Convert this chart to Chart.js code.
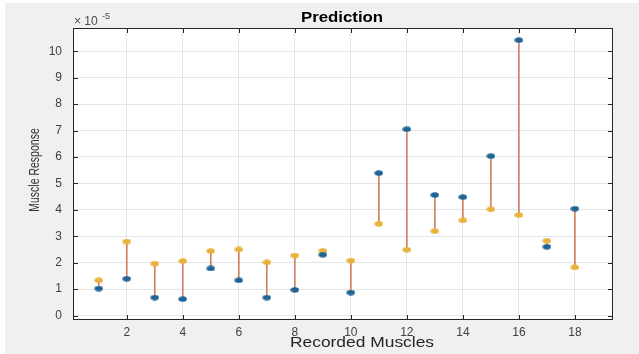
<!DOCTYPE html>
<html>
<head>
<meta charset="utf-8">
<script src="https://cdn.jsdelivr.net/npm/chart.js@4.4.1/dist/chart.umd.min.js"></script>
<style>
  body { margin: 0; background: #f0f0f0; }
  #wrap { width: 639px; height: 354px; }
</style>
</head>
<body>
<div id="wrap"><canvas id="predictionChart" width="639" height="354"></canvas></div>
<script>
// recorded muscle index
const muscles = [1, 2, 3, 4, 5, 6, 7, 8, 9, 10, 11, 12, 13, 14, 15, 16, 17, 18];
// measured response (x 1e-5), blue markers
const measured = [1.02, 1.39, 0.68, 0.62, 1.78, 1.33, 0.68, 0.97, 2.30, 0.87, 5.39, 7.05, 4.56, 4.48, 6.03, 10.42, 2.60, 4.04];
// predicted response (x 1e-5), orange markers
const predicted = [1.33, 2.80, 1.96, 2.06, 2.44, 2.50, 2.01, 2.27, 2.45, 2.08, 3.47, 2.49, 3.19, 3.60, 4.02, 3.80, 2.83, 1.82];
const xTicks = [2, 4, 6, 8, 10, 12, 14, 16, 18];
const yTicks = [0, 1, 2, 3, 4, 5, 6, 7, 8, 9, 10];

const FONT = "'Liberation Sans', Arial, sans-serif";

// small filled ellipse used as marker
function dot(color) {
  const c = document.createElement("canvas");
  c.width = 9; c.height = 6;
  const g = c.getContext("2d");
  g.fillStyle = color;
  g.beginPath();
  g.ellipse(4.5, 3, 4.2, 2.7, 0, 0, Math.PI * 2);
  g.fill();
  return c;
}

// vertical segments measured -> predicted, broken by null points
const segments = [];
muscles.forEach((m, i) => {
  segments.push({ x: m, y: measured[i] }, { x: m, y: predicted[i] }, { x: m, y: null });
});

// text a bit wider than normal, like the screenshot
function wideText(ctx, text, x, y, sx) {
  ctx.save();
  ctx.translate(x, y);
  ctx.scale(sx, 1);
  ctx.fillText(text, 0, 0);
  ctx.restore();
}

const matlabFrame = {
  id: "matlabFrame",
  beforeDraw(chart) {
    const { ctx, chartArea: a } = chart;
    ctx.save();
    ctx.fillStyle = "#f0f0f0";
    ctx.fillRect(0, 0, chart.width, chart.height);
    ctx.fillStyle = "#ffffff";
    ctx.fillRect(0, 0, chart.width, 3);
    ctx.fillRect(0, 0, 5, chart.height);
    ctx.fillRect(a.left, a.top, a.right - a.left, a.bottom - a.top);
    ctx.restore();
  },
  afterDraw(chart) {
    const { ctx, chartArea: a, scales } = chart;
    ctx.save();
    ctx.strokeStyle = "#262626";
    ctx.lineWidth = 1;
    ctx.strokeRect(a.left + 0.5, a.top + 0.5, a.right - a.left - 1, a.bottom - a.top - 1);
    ctx.beginPath();
    xTicks.forEach(v => {
      const px = Math.round(scales.x.getPixelForValue(v)) + 0.5;
      ctx.moveTo(px, a.bottom); ctx.lineTo(px, a.bottom - 5);
      ctx.moveTo(px, a.top); ctx.lineTo(px, a.top + 5);
    });
    yTicks.forEach(v => {
      const py = Math.round(scales.y.getPixelForValue(v)) + 0.5;
      ctx.moveTo(a.left, py); ctx.lineTo(a.left + 5, py);
      ctx.moveTo(a.right, py); ctx.lineTo(a.right - 5, py);
    });
    ctx.stroke();

    // exponent label
    ctx.fillStyle = "#4d4d4d";
    ctx.textBaseline = "alphabetic";
    ctx.textAlign = "left";
    ctx.font = "12px " + FONT;
    ctx.fillText("\u00d7 10", a.left + 1, 25);
    ctx.font = "9px " + FONT;
    ctx.fillText("-5", a.left + 29, 19);

    // title
    ctx.fillStyle = "#000000";
    ctx.textAlign = "center";
    ctx.textBaseline = "middle";
    ctx.font = "bold 14px " + FONT;
    wideText(ctx, "Prediction", 342, 18, 1.2);

    // x label
    ctx.fillStyle = "#262626";
    ctx.font = "14.5px " + FONT;
    wideText(ctx, "Recorded Muscles", 362, 343, 1.2);

    // y label
    ctx.save();
    ctx.fillStyle = "#333333";
    ctx.translate(35, 170);
    ctx.scale(1.35, 1);
    ctx.rotate(-Math.PI / 2);
    ctx.font = "10.5px " + FONT;
    ctx.fillText("Muscle Response", 0, 0);
    ctx.restore();
    ctx.restore();
  }
};

new Chart(document.getElementById("predictionChart"), {
  data: {
    datasets: [
      {
        type: "scatter",
        label: "Measured",
        data: muscles.map((m, i) => ({ x: m, y: measured[i] })),
        pointStyle: dot("#1f6495"),
        pointRadius: 4,
        order: 1
      },
      {
        type: "scatter",
        label: "Predicted",
        data: muscles.map((m, i) => ({ x: m, y: predicted[i] })),
        pointStyle: dot("#e9b23a"),
        pointRadius: 4,
        order: 2
      },
      {
        type: "line",
        label: "Error",
        data: segments,
        borderColor: "#d07f5a",
        borderWidth: 1.6,
        pointRadius: 0,
        spanGaps: false,
        fill: false,
        order: 3
      }
    ]
  },
  options: {
    responsive: false,
    animation: false,
    layout: { padding: { left: 0, right: 26, top: 28, bottom: 0 } },
    plugins: {
      legend: { display: false },
      tooltip: { enabled: false },
      title: { display: false }
    },
    scales: {
      x: {
        type: "linear",
        min: 0.08,
        max: 19.36,
        afterBuildTicks: s => { s.ticks = xTicks.map(v => ({ value: v })); },
        afterFit: s => { s.height = 34; },
        grid: { color: "#e6e6e6", drawTicks: false },
        border: { display: false },
        ticks: {
          color: "#404040",
          padding: 5,
          maxRotation: 0,
          font: { family: FONT, size: 12 }
        }
      },
      y: {
        type: "linear",
        min: -0.17,
        max: 10.88,
        afterBuildTicks: s => { s.ticks = yTicks.map(v => ({ value: v })); },
        afterFit: s => { s.width = 73; },
        grid: { color: "#e6e6e6", drawTicks: false },
        border: { display: false },
        ticks: {
          color: "#404040",
          padding: 11,
          font: { family: FONT, size: 12 }
        }
      }
    }
  },
  plugins: [matlabFrame]
});
</script>
</body>
</html>
